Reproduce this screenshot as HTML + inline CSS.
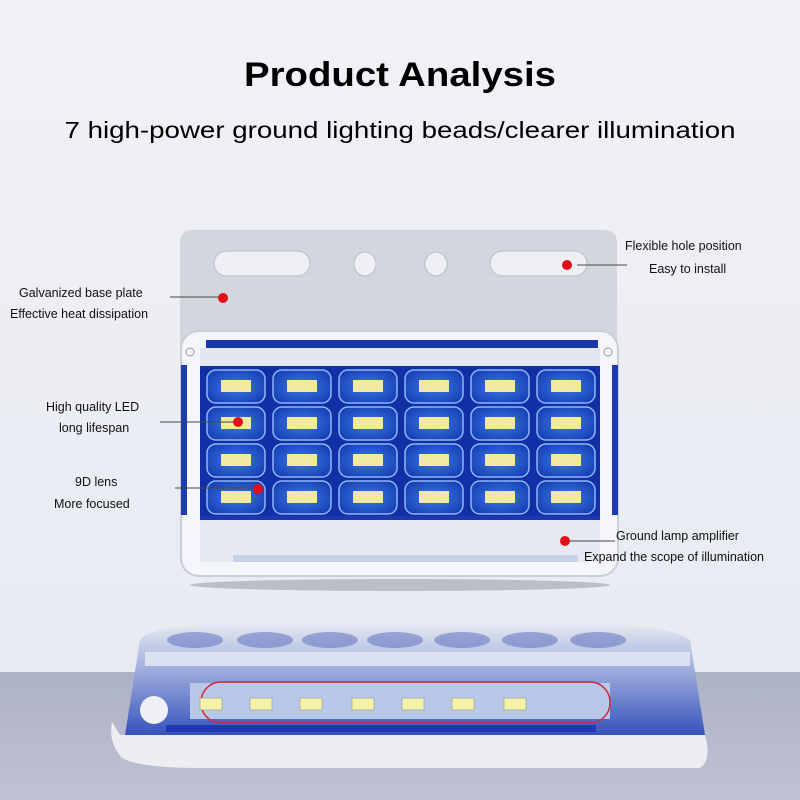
<!DOCTYPE html>
<html><head><meta charset="utf-8"><style>
html,body{margin:0;padding:0;background:#eef0f5}
svg{display:block}
text{font-family:"Liberation Sans","DejaVu Sans",sans-serif}
</style></head><body>
<svg width="800" height="800" viewBox="0 0 800 800" xmlns="http://www.w3.org/2000/svg">
<defs>
<linearGradient id="bg" x1="0" y1="0" x2="0" y2="1"><stop offset="0" stop-color="#f1f2f7"/><stop offset="1" stop-color="#e6e9f1"/></linearGradient>
<linearGradient id="floor" x1="0" y1="0" x2="0" y2="1"><stop offset="0" stop-color="#aeb2c6"/><stop offset="1" stop-color="#bfc2d2"/></linearGradient>
<radialGradient id="cell" cx="0.5" cy="0.5" r="0.6"><stop offset="0" stop-color="#3d7be0"/><stop offset="1" stop-color="#1640b8"/></radialGradient>
<linearGradient id="side" x1="0" y1="0" x2="0" y2="1"><stop offset="0" stop-color="#e4e7f0"/><stop offset="0.35" stop-color="#a9b6df"/><stop offset="1" stop-color="#3552bb"/></linearGradient>
</defs>
<rect width="800" height="800" fill="url(#bg)"/>
<rect y="672" width="800" height="128" fill="url(#floor)"/>

<text x="400" y="86" text-anchor="middle" font-size="34" font-weight="bold" textLength="312" lengthAdjust="spacingAndGlyphs">Product Analysis</text>
<text x="400" y="138" text-anchor="middle" font-size="23" textLength="671" lengthAdjust="spacingAndGlyphs">7 high-power ground lighting beads/clearer illumination</text>

<path d="M192 230 H604 Q617 230 617 243 V345 H180 V243 Q180 230 192 230Z" fill="#d3d6dc"/>
<rect x="214" y="251" width="96" height="25" rx="12.5" fill="#eef0f5" stroke="#b9bcc3"/>
<rect x="490" y="251" width="97" height="25" rx="12.5" fill="#eef0f5" stroke="#b9bcc3"/>
<ellipse cx="365" cy="264" rx="11" ry="12" fill="#eef0f5" stroke="#b9bcc3"/>
<ellipse cx="436" cy="264" rx="11" ry="12" fill="#eef0f5" stroke="#b9bcc3"/>

<ellipse cx="400" cy="585" rx="210" ry="6" fill="#9aa0ac" opacity="0.6"/>
<rect x="181" y="331" width="437" height="245" rx="18" fill="#f4f6fa" stroke="#c9ced8" stroke-width="2"/>
<rect x="206" y="340" width="392" height="8" fill="#1838a8"/>
<rect x="181" y="365" width="6" height="150" fill="#1d3cae"/>
<rect x="612" y="365" width="6" height="150" fill="#1d3cae"/>
<rect x="200" y="348" width="400" height="18" fill="#e3e7f0"/>
<rect x="200" y="366" width="400" height="150" fill="#1230a6"/>
<rect x="200" y="516" width="400" height="4" fill="#1a38b0"/>
<rect x="200" y="520" width="400" height="42" fill="#e6e9f1"/>
<rect x="233" y="555" width="345" height="7" fill="#c7d0e6"/>
<circle cx="190" cy="352" r="4" fill="none" stroke="#999"/>
<circle cx="608" cy="352" r="4" fill="none" stroke="#999"/>
<g id="cells">
<g id="row">
<rect x="207" y="370" width="58" height="33" rx="9" fill="url(#cell)" stroke="#8fb6f5" stroke-width="1.5"/>
<rect x="221" y="380" width="30" height="12" fill="#f2e9a0"/>
<rect x="273" y="370" width="58" height="33" rx="9" fill="url(#cell)" stroke="#8fb6f5" stroke-width="1.5"/>
<rect x="287" y="380" width="30" height="12" fill="#f2e9a0"/>
<rect x="339" y="370" width="58" height="33" rx="9" fill="url(#cell)" stroke="#8fb6f5" stroke-width="1.5"/>
<rect x="353" y="380" width="30" height="12" fill="#f2e9a0"/>
<rect x="405" y="370" width="58" height="33" rx="9" fill="url(#cell)" stroke="#8fb6f5" stroke-width="1.5"/>
<rect x="419" y="380" width="30" height="12" fill="#f2e9a0"/>
<rect x="471" y="370" width="58" height="33" rx="9" fill="url(#cell)" stroke="#8fb6f5" stroke-width="1.5"/>
<rect x="485" y="380" width="30" height="12" fill="#f2e9a0"/>
<rect x="537" y="370" width="58" height="33" rx="9" fill="url(#cell)" stroke="#8fb6f5" stroke-width="1.5"/>
<rect x="551" y="380" width="30" height="12" fill="#f2e9a0"/>
</g>
<use href="#row" y="37"/>
<use href="#row" y="74"/>
<use href="#row" y="111"/>
</g>

<!-- bottom lamp -->
<path d="M140 640 Q150 625 230 625 H590 Q670 625 690 640 L705 735 H125 Z" fill="url(#side)"/>
<g fill="#4a5eb8" opacity="0.45">
<ellipse cx="195" cy="640" rx="28" ry="8"/><ellipse cx="265" cy="640" rx="28" ry="8"/><ellipse cx="330" cy="640" rx="28" ry="8"/><ellipse cx="395" cy="640" rx="28" ry="8"/><ellipse cx="462" cy="640" rx="28" ry="8"/><ellipse cx="530" cy="640" rx="28" ry="8"/><ellipse cx="598" cy="640" rx="28" ry="8"/>
</g>
<rect x="145" y="652" width="545" height="14" fill="#dfe4f2" opacity="0.9"/>
<rect x="190" y="683" width="420" height="36" fill="#b9c7e8"/>
<rect x="201" y="682" width="409" height="41" rx="20" fill="none" stroke="#d0273a" stroke-width="1.5"/>
<g fill="#f3f0a8" stroke="#888" stroke-width="0.5">
<rect x="200" y="698" width="22" height="12"/><rect x="250" y="698" width="22" height="12"/><rect x="300" y="698" width="22" height="12"/><rect x="352" y="698" width="22" height="12"/><rect x="402" y="698" width="22" height="12"/><rect x="452" y="698" width="22" height="12"/><rect x="504" y="698" width="22" height="12"/>
</g>
<rect x="166" y="725" width="430" height="7" fill="#1d38b0"/>
<path d="M112 722 Q108 742 122 758 Q140 768 200 768 H700 Q712 760 705 735 H120 Z" fill="#eceef2"/>
<circle cx="154" cy="710" r="14" fill="#eef0f4"/>

<g stroke="#444" stroke-width="1" fill="none">
<line x1="577" y1="265" x2="627" y2="265"/>
<line x1="170" y1="297" x2="226" y2="297"/>
<line x1="160" y1="422" x2="238" y2="422"/>
<line x1="175" y1="488" x2="258" y2="488"/>
<line x1="566" y1="541" x2="615" y2="541"/>
</g>
<g fill="#e0101a">
<circle cx="567" cy="265" r="5"/><circle cx="223" cy="298" r="5"/><circle cx="238" cy="422" r="5"/><circle cx="258" cy="489" r="5"/><circle cx="565" cy="541" r="5"/>
</g>
<g font-size="12.5" fill="#111">
<text x="625" y="250">Flexible hole position</text>
<text x="649" y="273">Easy to install</text>
<text x="19" y="297">Galvanized base plate</text>
<text x="10" y="318">Effective heat dissipation</text>
<text x="46" y="411">High quality LED</text>
<text x="59" y="432">long lifespan</text>
<text x="75" y="486">9D lens</text>
<text x="54" y="508">More focused</text>
<text x="616" y="540">Ground lamp amplifier</text>
<text x="584" y="561">Expand the scope of illumination</text>
</g>
</svg>
</body></html>
